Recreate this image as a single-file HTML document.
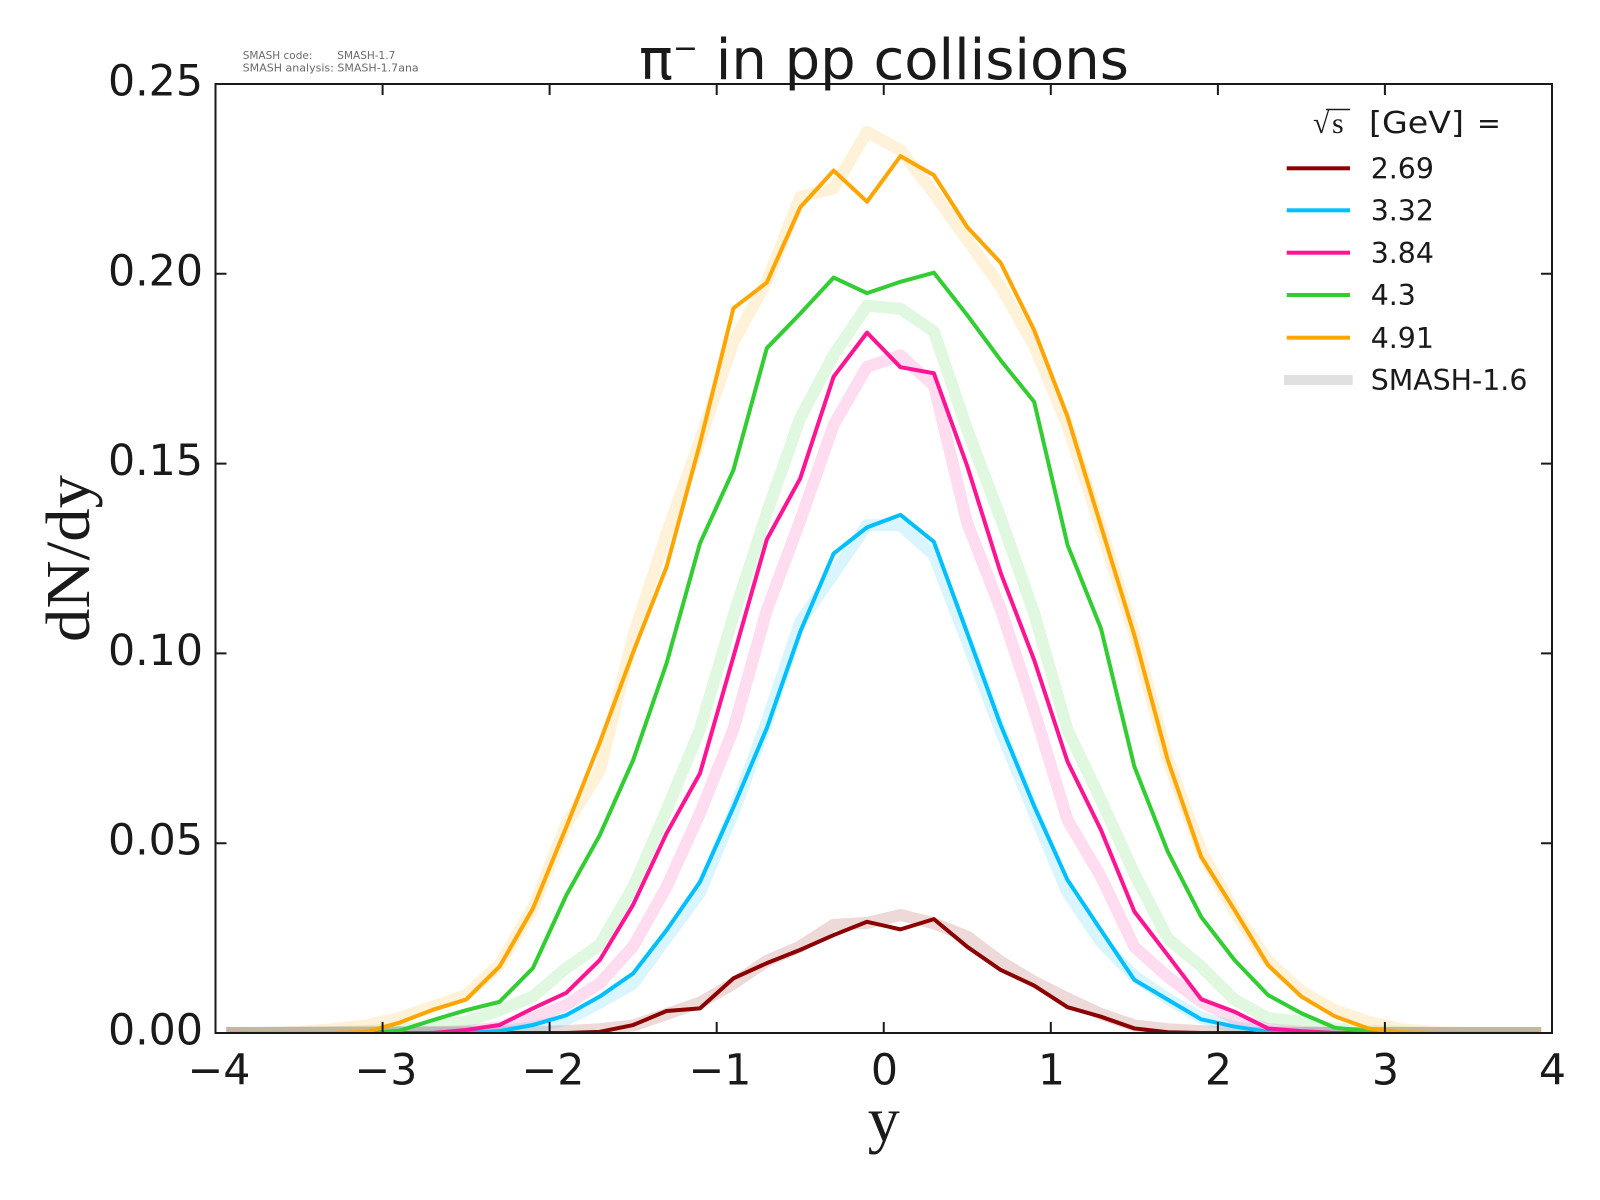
<!DOCTYPE html>
<html><head><meta charset="utf-8"><style>
html,body{margin:0;padding:0;background:#fff;}
svg{display:block;}
</style></head><body>
<svg width="1600" height="1200" viewBox="0 0 1600 1200" xmlns="http://www.w3.org/2000/svg">
<rect width="1600" height="1200" fill="#fff"/>
<defs><clipPath id="c"><rect x="215.5" y="84" width="1336.5" height="949"/></clipPath></defs>

<g clip-path="url(#c)">
<g transform="translate(883.75,1033) scale(167.06,-3796)" fill="none" stroke-linejoin="round" stroke-linecap="square">
<g stroke-width="12" stroke-opacity="0.15">
<polyline vector-effect="non-scaling-stroke" stroke="#8b0000" points="-3.9,0 -2.1,0.0002 -1.9,0.0005 -1.7,0.001 -1.5,0.002 -1.3,0.005 -1.1,0.008 -0.9,0.013 -0.7,0.019 -0.5,0.0228 -0.3,0.0285 -0.1,0.029 0.1,0.0311 0.3,0.0289 0.5,0.0254 0.7,0.0188 0.9,0.0135 1.1,0.0091 1.3,0.005 1.5,0.002 1.7,0.001 1.9,0.0005 2.1,0 3.9,0"/>
<polyline vector-effect="non-scaling-stroke" stroke="#00bfff" points="-3.9,0 -2.5,0.0002 -2.3,0.0005 -2.1,0.0015 -1.9,0.0035 -1.7,0.008 -1.5,0.013 -1.3,0.025 -1.1,0.037 -0.9,0.058 -0.7,0.082 -0.5,0.1083 -0.3,0.121 -0.1,0.1338 0.1,0.1338 0.3,0.1259 0.5,0.103 0.7,0.0795 0.9,0.058 1.1,0.037 1.3,0.024 1.5,0.015 1.7,0.009 1.9,0.004 2.1,0.0015 2.3,0.0005 2.5,0 3.9,0"/>
<polyline vector-effect="non-scaling-stroke" stroke="#ff1493" points="-3.9,0 -2.7,0.0002 -2.5,0.0005 -2.3,0.0015 -2.1,0.0039 -1.9,0.0074 -1.7,0.0131 -1.5,0.0228 -1.3,0.0385 -1.1,0.0579 -0.9,0.08 -0.7,0.1114 -0.5,0.135 -0.3,0.1602 -0.1,0.1755 0.1,0.1785 0.3,0.1706 0.5,0.1343 0.7,0.1117 0.9,0.085 1.1,0.0561 1.3,0.0412 1.5,0.0227 1.7,0.0148 1.9,0.0082 2.1,0.0039 2.3,0.001 2.5,0.0003 2.7,0 3.9,0"/>
<polyline vector-effect="non-scaling-stroke" stroke="#32cd32" points="-3.9,0 -3.5,0 -3.3,0.0002 -3.1,0.0005 -2.9,0.001 -2.7,0.0018 -2.5,0.003 -2.3,0.006 -2.1,0.0096 -1.9,0.0171 -1.7,0.0232 -1.5,0.0385 -1.3,0.0587 -1.1,0.08 -0.9,0.1098 -0.7,0.137 -0.5,0.162 -0.3,0.1786 -0.1,0.1916 0.1,0.1908 0.3,0.1848 0.5,0.1589 0.7,0.1356 0.9,0.1106 1.1,0.0798 1.3,0.0614 1.5,0.042 1.7,0.0249 1.9,0.0175 2.1,0.0088 2.3,0.0039 2.5,0.003 2.7,0.0012 2.9,0.0005 3.1,0.0002 3.3,0 3.9,0"/>
<polyline vector-effect="non-scaling-stroke" stroke="#ffa500" points="-3.9,0 -3.7,0 -3.5,0.0003 -3.3,0.001 -3.1,0.002 -2.9,0.004 -2.7,0.007 -2.5,0.01 -2.3,0.018 -2.1,0.033 -1.9,0.055 -1.7,0.069 -1.5,0.1045 -1.3,0.1316 -1.1,0.1562 -0.9,0.182 -0.7,0.198 -0.5,0.2203 -0.3,0.2225 -0.1,0.2374 0.1,0.2326 0.3,0.2212 0.5,0.2089 0.7,0.1966 0.9,0.181 1.1,0.16 1.3,0.133 1.5,0.105 1.7,0.072 1.9,0.048 2.1,0.032 2.3,0.019 2.5,0.011 2.7,0.006 2.9,0.003 3.1,0.001 3.3,0.0003 3.5,0 3.9,0"/>
</g>
<g stroke-width="4">
<polyline vector-effect="non-scaling-stroke" stroke="#8b0000" points="-3.9,0 -1.9,0 -1.7,0.0003 -1.5,0.0021 -1.3,0.0058 -1.1,0.0065 -0.9,0.0144 -0.7,0.0184 -0.5,0.0219 -0.3,0.0258 -0.1,0.0293 0.1,0.0273 0.3,0.03 0.5,0.0227 0.7,0.0166 0.9,0.0125 1.1,0.0068 1.3,0.0043 1.5,0.0012 1.7,0.0002 1.9,0 3.9,0"/>
<polyline vector-effect="non-scaling-stroke" stroke="#00bfff" points="-3.9,0 -2.5,0 -2.3,0.0005 -2.1,0.0021 -1.9,0.0047 -1.7,0.0096 -1.5,0.0157 -1.3,0.0271 -1.1,0.0398 -0.9,0.0595 -0.7,0.0803 -0.5,0.1057 -0.3,0.1263 -0.1,0.1332 0.1,0.1365 0.3,0.1294 0.5,0.1053 0.7,0.0811 0.9,0.0598 1.1,0.0403 1.3,0.0271 1.5,0.014 1.7,0.0088 1.9,0.0036 2.1,0.0017 2.3,0.0003 2.5,0 3.9,0"/>
<polyline vector-effect="non-scaling-stroke" stroke="#ff1493" points="-3.9,0 -2.7,0 -2.5,0.0008 -2.3,0.0021 -2.1,0.0065 -1.9,0.0106 -1.7,0.0192 -1.5,0.0338 -1.3,0.0526 -1.1,0.0684 -0.9,0.0991 -0.7,0.13 -0.5,0.1461 -0.3,0.1729 -0.1,0.1845 0.1,0.1754 0.3,0.1738 0.5,0.1493 0.7,0.1212 0.9,0.0983 1.1,0.0715 1.3,0.0535 1.5,0.032 1.7,0.0205 1.9,0.0089 2.1,0.0056 2.3,0.0012 2.5,0.0005 2.7,0 3.9,0"/>
<polyline vector-effect="non-scaling-stroke" stroke="#32cd32" points="-3.9,0 -3.1,0 -2.9,0.0006 -2.7,0.0034 -2.5,0.006 -2.3,0.0082 -2.1,0.0171 -1.9,0.0363 -1.7,0.0521 -1.5,0.0719 -1.3,0.0974 -1.1,0.129 -0.9,0.1483 -0.7,0.1804 -0.5,0.1895 -0.3,0.199 -0.1,0.1949 0.1,0.1979 0.3,0.2003 0.5,0.1891 0.7,0.1772 0.9,0.1663 1.1,0.1286 1.3,0.1066 1.5,0.0702 1.7,0.0478 1.9,0.0306 2.1,0.0192 2.3,0.01 2.5,0.0052 2.7,0.0014 2.9,0.0005 3.1,0 3.9,0"/>
<polyline vector-effect="non-scaling-stroke" stroke="#ffa500" points="-3.9,0 -3.3,0 -3.1,0.0003 -2.9,0.0027 -2.7,0.0061 -2.5,0.0088 -2.3,0.0175 -2.1,0.0328 -1.9,0.0543 -1.7,0.0765 -1.5,0.1003 -1.3,0.1228 -1.1,0.1553 -0.9,0.1909 -0.7,0.1977 -0.5,0.2175 -0.3,0.2272 -0.1,0.219 0.1,0.231 0.3,0.226 0.5,0.2123 0.7,0.2029 0.9,0.1852 1.1,0.1624 1.3,0.1336 1.5,0.1048 1.7,0.0719 1.9,0.0464 2.1,0.0324 2.3,0.0179 2.5,0.0096 2.7,0.0044 2.9,0.0012 3.1,0.0002 3.3,0 3.9,0"/>
</g>
</g>
</g>

<!-- axes frame -->
<rect x="215.5" y="84" width="1336.5" height="949" fill="none" stroke="#1a1a1a" stroke-width="2"/>
<!-- ticks -->
<g stroke="#1a1a1a" stroke-width="2">
<path d="M382.6,1033v-11M549.6,1033v-11M716.7,1033v-11M883.75,1033v-11M1050.8,1033v-11M1217.9,1033v-11M1384.9,1033v-11
M382.6,84v11M549.6,84v11M716.7,84v11M883.75,84v11M1050.8,84v11M1217.9,84v11M1384.9,84v11
M215.5,843.2h11M215.5,653.4h11M215.5,463.6h11M215.5,273.8h11
M1552,843.2h-11M1552,653.4h-11M1552,463.6h-11M1552,273.8h-11"/>
</g>

<!-- tick labels -->
<g font-family="'DejaVu Sans','Liberation Sans',sans-serif" font-size="42.7" fill="#1a1a1a">
<g text-anchor="end">
<text x="203" y="1044.5">0.00</text>
<text x="203" y="854.7">0.05</text>
<text x="203" y="664.9">0.10</text>
<text x="203" y="475.1">0.15</text>
<text x="203" y="285.3">0.20</text>
<text x="203" y="95.5">0.25</text>
</g>
<g text-anchor="middle">
<text x="219" y="1084.5">−4</text>
<text x="386" y="1084.5">−3</text>
<text x="553" y="1084.5">−2</text>
<text x="720" y="1084.5">−1</text>
<text x="884.5" y="1084.5">0</text>
<text x="1051.5" y="1084.5">1</text>
<text x="1218.5" y="1084.5">2</text>
<text x="1385.5" y="1084.5">3</text>
<text x="1552.5" y="1084.5">4</text>
</g>
</g>

<!-- axis labels -->
<text x="883.75" y="1141" text-anchor="middle" font-family="'Liberation Serif',serif" font-size="64" fill="#1a1a1a">y</text>
<text transform="translate(89,558.5) rotate(-90)" text-anchor="middle" font-family="'Liberation Serif',serif" font-size="62" fill="#1a1a1a" textLength="167" lengthAdjust="spacingAndGlyphs">dN/dy</text>

<!-- title -->
<text x="884" y="79" text-anchor="middle" font-family="'DejaVu Sans','Liberation Sans',sans-serif" font-size="56" fill="#1a1a1a">π<tspan font-size="30" dy="-21">−</tspan><tspan dy="21"> in pp collisions</tspan></text>

<!-- SMASH version annotation -->
<g font-family="'DejaVu Sans','Liberation Sans',sans-serif" font-size="10.5" fill="#6a6a6a">
<text x="242.7" y="59">SMASH code:</text>
<text x="337.3" y="59">SMASH-1.7</text>
<text x="242.7" y="71.7" textLength="176" lengthAdjust="spacingAndGlyphs">SMASH analysis: SMASH-1.7ana</text>
</g>

<!-- legend -->
<g>
<text x="1313" y="133" font-family="'Liberation Serif','DejaVu Serif',serif" font-size="30" fill="#1a1a1a">√</text>
<line x1="1326" y1="109.5" x2="1350" y2="109.5" stroke="#1a1a1a" stroke-width="1.5"/>
<text x="1332" y="133" font-family="'Liberation Serif','DejaVu Serif',serif" font-size="30" fill="#1a1a1a">s</text>
<text x="1369" y="133" font-family="'DejaVu Sans','Liberation Sans',sans-serif" font-size="30" fill="#1a1a1a" textLength="95" lengthAdjust="spacingAndGlyphs">[GeV]</text>
<text x="1477" y="133" font-family="'DejaVu Sans','Liberation Sans',sans-serif" font-size="28.4" fill="#1a1a1a">=</text>

<rect x="1286.7" y="166.3" width="63.3" height="4" fill="#8b0000"/>
<rect x="1286.7" y="208.3" width="63.3" height="4" fill="#00bfff"/>
<rect x="1286.7" y="250.7" width="63.3" height="4" fill="#ff1493"/>
<rect x="1286.7" y="293" width="63.3" height="4" fill="#32cd32"/>
<rect x="1286.7" y="335.7" width="63.3" height="4" fill="#ffa500"/>
<rect x="1284" y="375" width="68.7" height="10" fill="#e0e0e0"/>

<g font-family="'DejaVu Sans','Liberation Sans',sans-serif" font-size="28.4" fill="#1a1a1a">
<text x="1370.7" y="178.5">2.69</text>
<text x="1370.7" y="220.5">3.32</text>
<text x="1370.7" y="262.8">3.84</text>
<text x="1370.7" y="305.2">4.3</text>
<text x="1370.7" y="347.8">4.91</text>
<text x="1370.7" y="390.2">SMASH-1.6</text>
</g>
</g>
</svg>
</body></html>
